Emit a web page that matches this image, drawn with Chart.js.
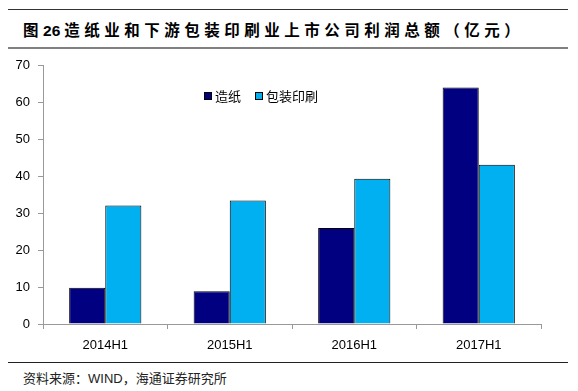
<!DOCTYPE html>
<html>
<head>
<meta charset="utf-8">
<script src="https://cdn.jsdelivr.net/npm/chart.js@4/dist/chart.umd.min.js"></script>
<style>
  html, body { margin: 0; padding: 0; background: #fff; }
  body { width: 578px; height: 391px; position: relative; overflow: hidden; }
  .rule { position: absolute; left: 8px; width: 560px; }
  #title {
    position: absolute; left: 23px; top: 18px;
    font: bold 15.5px "Liberation Sans", "Noto Sans CJK SC", sans-serif;
    letter-spacing: 4.5px; color: #000; white-space: nowrap;
  }
  #title .num { letter-spacing: 0; margin-right: 4px; }
  #wrap { position: absolute; left: 0; top: 50px; width: 578px; height: 310px; }
  #legend {
    position: absolute; left: 204px; top: 86px;
    font: 13px "Noto Sans CJK SC", sans-serif; color: #000; white-space: nowrap;
  }
  #legend span.item { margin-right: 14px; }
  #legend i {
    display: inline-block; width: 6px; height: 6px; border: 1px solid #000;
    margin-right: 3px; vertical-align: 1px;
  }
  #source {
    position: absolute; left: 23px; top: 368px;
    font: 13px "Liberation Sans", "Noto Sans CJK SC", sans-serif; color: #222; white-space: nowrap;
  }
</style>
</head>
<body>
<div class="rule" style="top:9px;height:1px;background:#333;"></div>
<div id="title">图<span class="num">26</span>造纸业和下游包装印刷业上市公司利润总额（亿元）</div>
<div class="rule" style="top:47px;height:2px;background:#808080;"></div>
<div id="wrap"><canvas id="c" width="578" height="310"></canvas></div>
<div id="legend"></div>
<div class="rule" style="top:362px;height:1px;background:#222;"></div>
<div id="source">资料来源：WIND，海通证券研究所</div>

<script>
const categories = ['2014H1', '2015H1', '2016H1', '2017H1'];
const paper = [9.8, 8.9, 26.0, 64.1];
const packaging = [32.1, 33.5, 39.4, 43.2];
const seriesNames = ['造纸', '包装印刷'];
const seriesColors = ['#000080', '#00B0F0'];
const yTicks = [0, 10, 20, 30, 40, 50, 60, 70];

const legend = document.getElementById('legend');
seriesNames.forEach((name, i) => {
    const item = document.createElement('span');
    item.className = 'item';
    item.innerHTML = '<i style="background:' + seriesColors[i] + '"></i>' + name;
    legend.appendChild(item);
});

const tickFont = { family: '"Liberation Sans", Arial, sans-serif', size: 13 };

new Chart(document.getElementById('c').getContext('2d'), {
    type: 'bar',
    data: {
        labels: categories,
        datasets: [
            { label: seriesNames[0], data: paper, backgroundColor: seriesColors[0] },
            { label: seriesNames[1], data: packaging, backgroundColor: seriesColors[1] }
        ].map(d => Object.assign(d, {
            borderColor: '#000',
            borderWidth: 1,
            barPercentage: 1,
            categoryPercentage: 0.58
        }))
    },
    options: {
        responsive: false,
        animation: false,
        layout: { padding: { top: 12, right: 37, bottom: 6, left: 0 } },
        plugins: {
            legend: { display: false },
            tooltip: { enabled: false }
        },
        scales: {
            x: {
                grid: { drawOnChartArea: false, tickLength: 5, color: '#999' },
                border: { color: '#999', width: 1 },
                ticks: { color: '#000', font: tickFont, padding: 9 },
                afterFit: s => { s.height = 30; }
            },
            y: {
                min: 0,
                max: 70,
                afterBuildTicks: s => { s.ticks = yTicks.map(v => ({ value: v })); },
                grid: { drawOnChartArea: false, tickLength: 5, color: '#999' },
                border: { color: '#999', width: 1 },
                ticks: { color: '#000', font: tickFont, padding: 8 },
                afterFit: s => { s.width = 43; }
            }
        }
    }
});
</script>
</body>
</html>
